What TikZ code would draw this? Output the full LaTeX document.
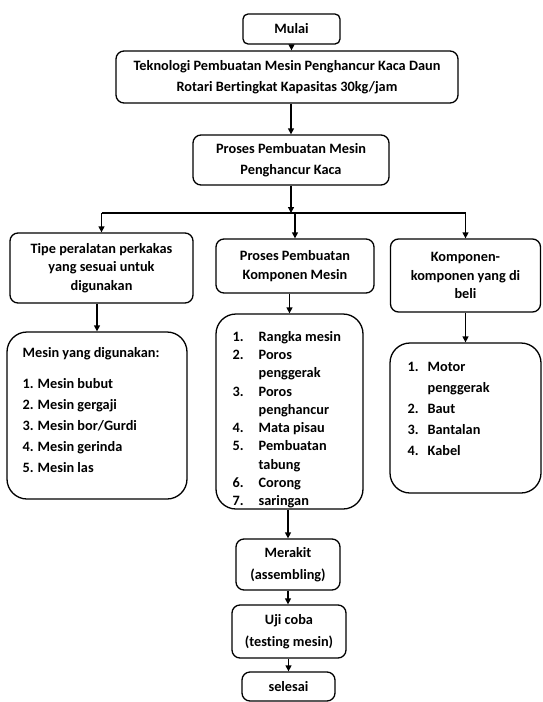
\documentclass[tikz,border=0pt]{standalone}
\usepackage{fontspec}
\setmainfont{Carlito}[Ligatures=NoCommon]
\usetikzlibrary{arrows.meta, positioning}
\tikzset{
  every picture/.style={line width=1.3pt},
  box/.style={draw, rounded corners=8pt, align=center, inner sep=2pt, font=\bfseries\fontsize{14.3}{21.5}\selectfont},
  rowbox/.style={box, font=\bfseries\fontsize{14.3}{18.3}\selectfont},
  listbox/.style={draw, rounded corners=20pt},
  listtext/.style={align=left, inner sep=0pt, anchor=north west},
  arrow/.style={-{Triangle[length=6pt, width=6pt]}},
}
\newcommand{\nomor}[2]{\makebox[#1][l]{#2}}

\begin{document}
\begin{tikzpicture}[x=1pt, y=-1pt]
  \useasboundingbox (0,0) rectangle (542,702);
  \node[box, rounded corners=5pt, minimum width=97pt, minimum height=30pt] (mulai) at (291.5,29) {Mulai};
  \node[box, minimum width=342pt, minimum height=52pt] (judul) at (287,77) {Teknologi Pembuatan Mesin Penghancur Kaca Daun\\Rotari Bertingkat Kapasitas 30kg/jam};
  \node[box, minimum width=196pt, minimum height=50pt] (proses) at (291,160) {Proses Pembuatan Mesin\\Penghancur Kaca};
  \coordinate (cab) at (291,213);
  \node[rowbox, minimum width=183pt, minimum height=70pt] (tipe) at (101.5,268) {Tipe peralatan perkakas\\yang sesuai untuk\\digunakan};
  \node[rowbox, minimum width=158pt, minimum height=54pt] (komp) at (295,266) {Proses Pembuatan\\Komponen Mesin};
  \node[rowbox, minimum width=150pt, minimum height=73pt] (beli) at (465.5,275.5) {Komponen-\\komponen yang di\\beli};
  % daftar isi tiap cabang
  \node[listbox, minimum width=180pt, minimum height=167pt] (mesin) at (97,415.5) {};
  \node[listtext, font=\bfseries\fontsize{14.3}{21}\selectfont] (mesinisi) at (22,347) {Mesin yang digunakan:\\[10pt]
    \nomor{15pt}{1.}Mesin bubut\\\nomor{15pt}{2.}Mesin gergaji\\\nomor{15pt}{3.}Mesin bor/Gurdi\\
    \nomor{15pt}{4.}Mesin gerinda\\\nomor{15pt}{5.}Mesin las};
  \node[listbox, minimum width=147pt, minimum height=195pt] (bagian) at (289.5,411.5) {};
  \node[listtext, font=\bfseries\fontsize{14.3}{18.3}\selectfont] (bagianisi) at (232,330.5) {\nomor{26pt}{1.}Rangka mesin\\
    \nomor{26pt}{2.}Poros\\\nomor{26pt}{}penggerak\\\nomor{26pt}{3.}Poros\\\nomor{26pt}{}penghancur\\
    \nomor{26pt}{4.}Mata pisau\\\nomor{26pt}{5.}Pembuatan\\\nomor{26pt}{}tabung\\
    \nomor{26pt}{6.}Corong\\\nomor{26pt}{7.}saringan};
  \node[listbox, minimum width=151pt, minimum height=150pt] (daftar) at (465.5,418) {};
  \node[listtext, font=\bfseries\fontsize{14.3}{21}\selectfont] (daftarisi) at (407,361.5) {\nomor{20pt}{1.}Motor\\
    \nomor{20pt}{}penggerak\\\nomor{20pt}{2.}Baut\\\nomor{20pt}{3.}Bantalan\\\nomor{20pt}{4.}Kabel};
  \node[box, minimum width=104pt, minimum height=51pt] (merakit) at (288,564.5) {Merakit\\(assembling)};
  \node[box, minimum width=114pt, minimum height=53pt] (uji) at (289,631.5) {Uji coba\\(testing mesin)};
  \node[box, minimum width=93pt, minimum height=29pt] (selesai) at (288.5,686.5) {selesai};
  % panah
  \draw[arrow] (mulai.south) -- (mulai.south |- judul.north);
  \draw[arrow] (judul.south -| proses.north) -- (proses.north);
  \draw[arrow] (proses.south) -- (cab);
  \draw (cab -| tipe.north) -- (cab -| beli.north);
  \draw[arrow] (cab -| tipe.north) -- (tipe.north);
  \draw[arrow] (cab -| komp.north) -- (komp.north);
  \draw[arrow] (cab -| beli.north) -- (beli.north);
  \draw[arrow] (mesin.north |- tipe.south) -- (mesin.north);
  \draw[arrow] (komp.south -| bagian.north) -- (bagian.north);
  \draw[arrow] (daftar.north |- beli.south) -- (daftar.north);
  \draw[arrow] (merakit.north |- bagian.south) -- (merakit.north);
  \draw[arrow] (merakit.south) -- (merakit.south |- uji.north);
  \draw[arrow] (uji.south -| selesai.north) -- (selesai.north);
\end{tikzpicture}
\end{document}
